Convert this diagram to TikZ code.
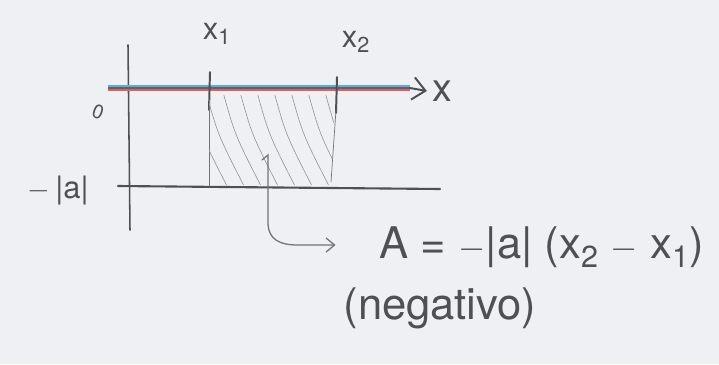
\documentclass[tikz,border=0pt]{standalone}
\usepackage{fontspec}
\setmainfont{TeX Gyre Heros}
\usetikzlibrary{arrows.meta,positioning,calc}
\definecolor{paper}{RGB}{238,240,243}
\definecolor{pencil}{RGB}{80,80,84}
\definecolor{axblue}{RGB}{80,175,235}
\definecolor{axred}{RGB}{225,95,85}

\begin{document}
\begin{tikzpicture}[
  x=0.025cm,y=-0.025cm,
  every node/.style={text=pencil,inner sep=0pt},
  pen/.style={pencil,line width=1.1pt,line cap=round},
  thinpen/.style={pencil!80,line width=0.5pt,line cap=round},
  hatch/.style={pencil!60,line width=0.45pt},
  lbl/.style={font=\fontsize{22}{24}\selectfont},
  big/.style={font=\fontsize{31}{36}\selectfont}
]
\fill[paper] (0,0) rectangle (719,364);
\def\xa{209}
\def\xb{336}

% axes
\coordinate (ytop) at (128,45);
\coordinate (ybot) at (130,230);
\coordinate (xstart) at (108,88);
\coordinate (xend) at (410,88);
\coordinate (lstart) at (118,186);
\coordinate (lend) at (440,189);
\node[lbl,font=\fontsize{28}{30}\selectfont] (xlab) at (442,91) {x};
\draw[pen] (ytop) -- (ybot);
\draw[axblue,line width=1pt] ($(xstart)+(0,-2)$) -- ($(xend)+(0,-2)$);
\draw[axred,line width=1pt] ($(xstart)+(0,2)$) -- ($(xend)+(0,2)$);
\draw[pencil!90,line width=1.8pt] (xstart) -- (xend);
\draw[pen,line width=1.4pt,-{Straight Barb[length=9pt,width=16pt,line width=1.4pt]}] (xend) -- ($(xlab.west)+(-5,0)$);

\draw[pen,line width=1.5pt] (lstart) -- (lend);

% ticks and labels
\draw[pen,line width=1.4pt] (\xa+1,72) -- (\xa,110);
\draw[pen,line width=1.4pt] (\xb+1,77) -- (\xb,113);
\node[lbl] (x1) at (217,34) {x\textsubscript{1}};
\node[lbl] (x2) at (356,42) {x\textsubscript{2}};
\node[font=\fontsize{14}{14}\selectfont,rotate=-20] (zero) at (98,112) {0};
\node[lbl] (mina) at (58,190) {$-$\,|a|};

% shaded area
\draw[thinpen] (\xa,100) -- (\xa,186);
\draw[thinpen] (\xb,110) -- (331,182);
\begin{scope}
  \clip (\xa,95) -- (\xb,95) -- (331,185) -- (\xa,185) -- cycle;
  \foreach \s in {0,...,9}
    \draw[hatch] (\xa-20+\s*17,92) .. controls (\xa-8+\s*17,135) .. (\xa+18+\s*17,186);
\end{scope}

% result
\node[big] (area) at (542,247) {A = $-$|a| (x\textsubscript{2} $-$ x\textsubscript{1})};
\node[big] (neg) at (440,308) {(negativo)};
\coordinate (hook) at (262,160);
\draw[thinpen,line width=0.9pt,-{Straight Barb[length=6pt,width=10pt]}]
  (hook) -- (268,155) -- (268,222) .. controls (268,240) and (280,245) .. (298,245)
  -- ($(area.west)+(-44,-2)$);
\end{tikzpicture}
\end{document}
